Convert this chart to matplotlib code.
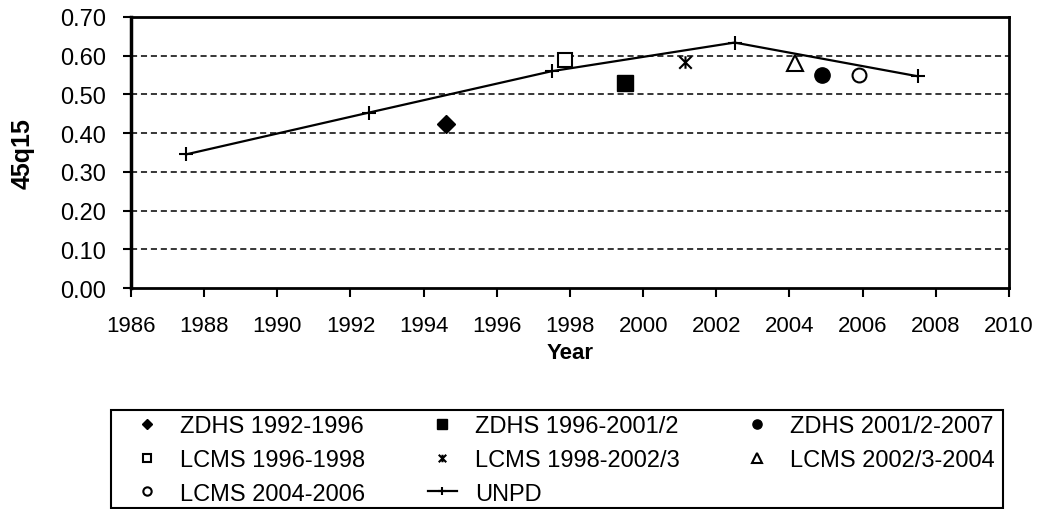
import matplotlib.pyplot as plt
from matplotlib.path import Path
from matplotlib.patches import Rectangle

plt.rcParams['font.family'] = ['Liberation Sans', 'DejaVu Sans']

# survey estimates of 45q15
zdhs_92_96_x = [1994.6]
zdhs_92_96_y = [0.424]
zdhs_96_01_x = [1999.5]
zdhs_96_01_y = [0.529]
zdhs_01_07_x = [2004.9]
zdhs_01_07_y = [0.549]
lcms_96_98_x = [1997.85]
lcms_96_98_y = [0.590]
lcms_98_02_x = [2001.15]
lcms_98_02_y = [0.584]
lcms_02_04_x = [2004.15]
lcms_02_04_y = [0.582]
lcms_04_06_x = [2005.9]
lcms_04_06_y = [0.551]

# UNPD series
unpd_x = [1987.5, 1992.5, 1997.5, 2002.5, 2007.5]
unpd_y = [0.345, 0.453, 0.560, 0.634, 0.547]

x_ticks = list(range(1986, 2011, 2))
y_ticks = [0.0, 0.1, 0.2, 0.3, 0.4, 0.5, 0.6, 0.7]

# excel style star marker: X with a vertical bar
star = Path([(-1, -1), (1, 1), (-1, 1), (1, -1), (0, -1), (0, 1)],
            [Path.MOVETO, Path.LINETO, Path.MOVETO, Path.LINETO, Path.MOVETO, Path.LINETO])

W, H = 1048, 510
fig = plt.figure(figsize=(W / 100, H / 100), dpi=100)
ax = fig.add_axes([131 / W, 1 - 289 / H, (1009 - 131) / W, (289 - 18) / H])

for yv in y_ticks[1:-1]:
    ax.axhline(yv, color='black', lw=1.1, ls=(0, (4, 2.5)), zorder=1)

ms = 11
h = {}
h['a'], = ax.plot(zdhs_92_96_x, zdhs_92_96_y, ls='none', marker='D', ms=9, color='black', label='ZDHS 1992-1996')
h['b'], = ax.plot(zdhs_96_01_x, zdhs_96_01_y, ls='none', marker='s', ms=ms, color='black', label='ZDHS 1996-2001/2')
h['c'], = ax.plot(zdhs_01_07_x, zdhs_01_07_y, ls='none', marker='o', ms=ms, color='black', label='ZDHS 2001/2-2007')
h['d'], = ax.plot(lcms_96_98_x, lcms_96_98_y, ls='none', marker='s', ms=10, mfc='white', mec='black', mew=1.5,
                  label='LCMS 1996-1998')
h['e'], = ax.plot(lcms_98_02_x, lcms_98_02_y, ls='none', marker=star, ms=9, mec='black', mew=1.5,
                  label='LCMS 1998-2002/3')
h['f'], = ax.plot(lcms_02_04_x, lcms_02_04_y, ls='none', marker='^', ms=ms, mfc='white', mec='black', mew=1.5,
                  label='LCMS 2002/3-2004')
h['g'], = ax.plot(lcms_04_06_x, lcms_04_06_y, ls='none', marker='o', ms=10, mfc='white', mec='black', mew=1.5,
                  label='LCMS 2004-2006')
h['u'], = ax.plot(unpd_x, unpd_y, color='black', lw=1.6, marker='+', ms=10, mew=1.5, label='UNPD')

ax.set_xlim(1986, 2010)
ax.set_ylim(0, 0.7)
ax.set_xticks(x_ticks)
ax.set_yticks(y_ticks)
ax.set_yticklabels(['%.2f' % v for v in y_ticks])
ax.tick_params(axis='x', direction='out', length=6.5, width=1.5, pad=13, labelsize=16)
ax.tick_params(axis='y', direction='out', length=6, width=1.5, pad=12, labelsize=17)
ax.spines['left'].set_linewidth(2.5)
ax.spines['bottom'].set_linewidth(2)
ax.spines['top'].set_linewidth(2)
ax.spines['right'].set_linewidth(2)
for s in ax.spines.values():
    s.set_color('black')

fig.text(570 / W, 1 - 354 / H, 'Year', fontsize=16, fontweight='bold', ha='center', va='center')
fig.text(23 / W, 1 - 154 / H, '45q15', fontsize=18, fontweight='bold', ha='center', va='center',
         rotation=90)

# legend filled row by row like the original (matplotlib fills by column)
order = ['a', 'd', 'g', 'b', 'e', 'u', 'c', 'f']
leg = fig.legend([h[k] for k in order], [h[k].get_label() for k in order],
                 loc='upper left', bbox_to_anchor=(133 / W, 1 - 416 / H, (995 - 133) / W, 0.0),
                 mode='expand', ncol=3, fontsize=17, markerscale=0.6, frameon=False,
                 handlelength=1.2, handletextpad=0.8, labelspacing=0.5, borderaxespad=0.,
                 borderpad=0.)
fig.patches.append(Rectangle((111 / W, 1.5 / H), (1003 - 111) / W, (509 - 411) / H,
                             transform=fig.transFigure, fill=False, ec='black', lw=1.5))

fig.savefig('out.png', dpi=100)
